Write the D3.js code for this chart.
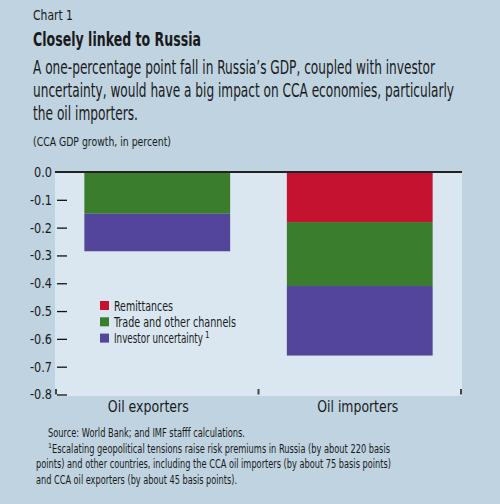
<!DOCTYPE html>
<html>
<head>
<meta charset="utf-8">
<script src="https://cdn.jsdelivr.net/npm/d3@7"></script>
<style>
  body { margin: 0; background: #bfd3e1; }
  svg { display: block; }
  text { font-family: "DejaVu Sans", "Liberation Sans", sans-serif; font-stretch: condensed; fill: #1a1a1a; }
  .axis text { font-size: 14px; }
  .axis line { stroke: #111; stroke-width: 1.3; }
</style>
</head>
<body>
<svg id="chart" width="500" height="504"></svg>
<script>
// ---- data ----
const categories = ["Oil exporters", "Oil importers"];
const seriesNames = ["Remittances", "Trade and other channels", "Investor uncertainty"];
const remittances = [0, -0.18];
const trade = [-0.15, -0.23];
const investor = [-0.135, -0.25];
const yTicks = [0, -0.1, -0.2, -0.3, -0.4, -0.5, -0.6, -0.7, -0.8];
const colors = ["#c41230", "#3a7d2c", "#52459a"];

const svg = d3.select("#chart");

svg.append("rect").attr("width", 500).attr("height", 504).attr("fill", "#bfd3e1");

// squeeze a text to the width it has in the picture
function fit(sel, w) {
  sel.attr("textLength", w).attr("lengthAdjust", "spacingAndGlyphs");
  return sel;
}

/* ---------- header text ---------- */
fit(svg.append("text").attr("x", 33).attr("y", 20).attr("font-size", 14).text("Chart 1"), 40);
fit(svg.append("text").attr("x", 33).attr("y", 46).attr("font-size", 19.5).attr("font-weight", "bold")
  .text("Closely linked to Russia"), 168);

const subLines = [
  "A one-percentage point fall in Russia\u2019s GDP, coupled with investor",
  "uncertainty, would have a big impact on CCA economies, particularly",
  "the oil importers."
];
const subWidths = [402, 421, 105];
svg.append("g").selectAll("text").data(subLines).join("text")
  .attr("x", 33).attr("y", (d, i) => 74 + i * 23)
  .attr("font-size", 19).text(d => d)
  .attr("textLength", (d, i) => subWidths[i]).attr("lengthAdjust", "spacingAndGlyphs");

fit(svg.append("text").attr("x", 33).attr("y", 146).attr("font-size", 13)
  .text("(CCA GDP growth, in percent)"), 138);

/* ---------- scales ---------- */
const plot = { left: 55, right: 462, top: 172, bottom: 396 };
const y = d3.scaleLinear().domain([-0.8, 0]).range([394.5, 172]);
const x = d3.scaleBand().domain(categories).range([56, 461]).paddingInner(0.28).paddingOuter(0.14);

svg.append("rect")
  .attr("x", plot.left).attr("y", plot.top)
  .attr("width", plot.right - plot.left).attr("height", plot.bottom - plot.top)
  .attr("fill", "#dbe7f0");

/* ---------- stacked bars ---------- */
const rows = categories.map((c, i) => ({
  cat: c, "Remittances": remittances[i], "Trade and other channels": trade[i], "Investor uncertainty": investor[i]
}));
const stacked = d3.stack().keys(seriesNames).offset(d3.stackOffsetDiverging)(rows);

svg.append("g").selectAll("g").data(stacked).join("g")
  .attr("fill", (d, i) => colors[i])
  .selectAll("rect").data(d => d).join("rect")
  .attr("x", d => x(d.data.cat))
  .attr("width", x.bandwidth())
  .attr("y", d => y(Math.max(d[0], d[1])))
  .attr("height", d => Math.abs(y(d[0]) - y(d[1])));

/* ---------- axes ---------- */
const yAxis = d3.axisLeft(y).tickValues(yTicks.slice(1)).tickSize(10).tickPadding(5)
  .tickFormat(d3.format(".1f"));
const yg = svg.append("g").attr("class", "axis").attr("transform", "translate(67,0)").call(yAxis);
yg.select(".domain").remove();
yg.selectAll("text").text(d => d3.format(".1f")(d).replace("\u2212", "-"))
  .attr("textLength", 22).attr("lengthAdjust", "spacingAndGlyphs");

fit(svg.append("text").attr("x", 52).attr("y", y(0)).attr("dy", "0.35em")
  .attr("text-anchor", "end").attr("font-size", 14).text(d3.format(".1f")(yTicks[0])), 18);

svg.append("line")
  .attr("x1", plot.left).attr("x2", plot.right)
  .attr("y1", y(0)).attr("y2", y(0))
  .attr("stroke", "#222").attr("stroke-width", 2);

const step = x.step();
const bounds = [x.range()[0], x(categories[0]) + x.bandwidth() + (step - x.bandwidth()) / 2, x.range()[1]];
svg.append("g").selectAll("line").data(bounds).join("line")
  .attr("x1", d => d).attr("x2", d => d)
  .attr("y1", 389).attr("y2", y(-0.8))
  .attr("stroke", "#444").attr("stroke-width", 2);

const labelShift = [-9, -2];
svg.append("g").selectAll("text").data(categories).join("text")
  .attr("x", (d, i) => x(d) + x.bandwidth() / 2 + labelShift[i])
  .attr("y", 412).attr("text-anchor", "middle").attr("font-size", 16)
  .attr("textLength", 81).attr("lengthAdjust", "spacingAndGlyphs")
  .text(d => d);

/* ---------- legend ---------- */
const legendWidths = [59, 122, 89];
const legend = svg.append("g").attr("transform", "translate(100,301)");
const items = legend.selectAll("g").data(seriesNames).join("g")
  .attr("transform", (d, i) => `translate(0,${i * 16.3})`);
items.append("rect").attr("width", 9).attr("height", 9).attr("fill", (d, i) => colors[i]);
items.append("text").attr("x", 14).attr("y", 9.5).attr("font-size", 13.5)
  .attr("textLength", (d, i) => legendWidths[i]).attr("lengthAdjust", "spacingAndGlyphs")
  .text(d => d);
items.filter((d, i) => i === 2).append("text")
  .attr("x", 14 + legendWidths[2] + 2).attr("y", 4.5).attr("font-size", 8).text("1");

/* ---------- footnotes ---------- */
fit(svg.append("text").attr("x", 48).attr("y", 437).attr("font-size", 12.5)
  .text("Source: World Bank; and IMF stafff calculations."), 197);
svg.append("text").attr("x", 48).attr("y", 448).attr("font-size", 7).text("1");
fit(svg.append("text").attr("x", 52).attr("y", 452.5).attr("font-size", 12.5)
  .text("Escalating geopolitical tensions raise risk premiums in Russia (by about 220 basis"), 338);
fit(svg.append("text").attr("x", 36).attr("y", 468).attr("font-size", 12.5)
  .text("points) and other countries, including the CCA oil importers (by about 75 basis points)"), 355);
fit(svg.append("text").attr("x", 36).attr("y", 483.5).attr("font-size", 12.5)
  .text("and CCA oil exporters (by about 45 basis points)."), 201);
</script>
</body>
</html>
